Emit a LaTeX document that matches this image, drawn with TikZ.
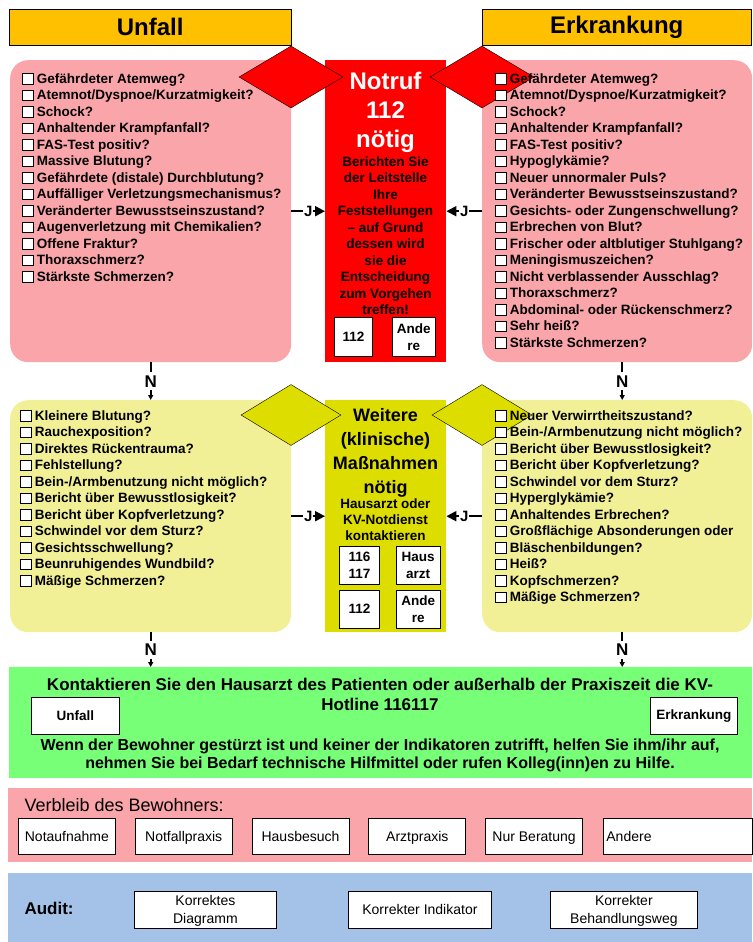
\documentclass[tikz,border=0pt]{standalone}
\usepackage{fontspec}
\setmainfont{Liberation Sans}
\usetikzlibrary{shapes.geometric, arrows.meta, positioning}

\definecolor{kopfgelb}{RGB}{255,192,0}
\definecolor{rosa}{RGB}{250,165,170}
\definecolor{notrot}{RGB}{255,0,0}
\definecolor{hellgelb}{RGB}{242,240,150}
\definecolor{olivgelb}{RGB}{221,221,0}
\definecolor{gruen}{RGB}{119,255,119}
\definecolor{hellblau}{RGB}{164,194,232}

\newcommand{\chk}{\raisebox{-0.5pt}{\setlength{\fboxsep}{0pt}\setlength{\fboxrule}{1.1pt}\fcolorbox{black}{white}{\rule{0pt}{9.5pt}\hspace{9.5pt}}}\hspace{3pt}}

\begin{document}
\begin{tikzpicture}[x=1pt, y=-1pt,
  hdr/.style={rectangle, draw=black, fill=kopfgelb, anchor=north west, inner sep=0pt,
              minimum height=36pt, font=\fontsize{24}{28}\selectfont\bfseries},
  panel/.style={rectangle, rounded corners=18pt, anchor=north west, inner sep=0pt},
  mitte/.style={rectangle, anchor=north west, inner sep=0pt, minimum width=121pt},
  raute/.style={diamond, draw=black, inner sep=0pt},
  liste/.style={anchor=north west, align=left, inner sep=0pt,
                font=\fontsize{13.5}{16.5}\selectfont\bfseries},
  kasten/.style={rectangle, draw=black, thick, fill=white, anchor=north west, inner sep=0pt,
                 align=center, font=\fontsize{13.5}{17}\selectfont\bfseries},
  wahl/.style={rectangle, draw=black, thick, fill=white, anchor=north west, inner sep=0pt,
               minimum width=97pt, minimum height=36pt, text height=11.5pt, text depth=1.5pt,
               font=\fontsize{14}{18}\selectfont},
  pruef/.style={rectangle, draw=black, thick, fill=white, anchor=north west, inner sep=0pt,
                align=center, minimum height=37pt, text depth=0pt, font=\fontsize{14}{18}\selectfont},
  band/.style={rectangle, anchor=north west, inner sep=0pt, minimum width=744pt},
  jpfeil/.style={-{Triangle[length=10pt, width=10pt]}, line width=2pt},
  npfeil/.style={-{Triangle[length=5pt, width=5pt]}, line width=2pt},
  jlab/.style={fill=white, inner sep=1pt, font=\fontsize{15}{15}\selectfont\bfseries},
  nlab/.style={fill=white, inner xsep=1pt, inner ysep=3pt, font=\fontsize{17}{17}\selectfont\bfseries}
]
\useasboundingbox (0,0) rectangle (752,942);

\node[hdr, minimum width=282pt] (unfall) at (9,9) {Unfall};
\node[hdr, minimum width=269pt] (erkrankung) at (482,9) {Erkrankung};

\node[panel, fill=rosa, minimum width=281pt, minimum height=302pt] (rotL) at (10,60) {};
\node[panel, fill=rosa, minimum width=270pt, minimum height=302pt] (rotR) at (482,60) {};
\node[mitte, fill=notrot, minimum height=302pt] (notruf) at (325,60) {};
\node[raute, fill=notrot, minimum width=104pt, minimum height=62pt] (rauteRotL) at (291,77) {};
\node[raute, fill=notrot, minimum width=104pt, minimum height=62pt] (rauteRotR) at (482,77) {};

\node[panel, fill=hellgelb, minimum width=281pt, minimum height=232pt] (gelbL) at (10,400) {};
\node[panel, fill=hellgelb, minimum width=270pt, minimum height=232pt] (gelbR) at (482,400) {};
\node[mitte, fill=olivgelb, minimum height=232pt] (weitere) at (325,400) {};
\node[raute, fill=olivgelb, minimum width=100pt, minimum height=61pt] (rauteGelbL) at (291,415) {};
\node[raute, fill=olivgelb, minimum width=100pt, minimum height=61pt] (rauteGelbR) at (482,415) {};

\node[liste] (listeRotL) at (22,73) {\chk Gefährdeter Atemweg?\\ \chk Atemnot/Dyspnoe/Kurzatmigkeit?\\
  \chk Schock?\\ \chk Anhaltender Krampfanfall?\\ \chk FAS-Test positiv?\\ \chk Massive Blutung?\\
  \chk Gefährdete (distale) Durchblutung?\\ \chk Auffälliger Verletzungsmechanismus?\\
  \chk Veränderter Bewusstseinszustand?\\ \chk Augenverletzung mit Chemikalien?\\
  \chk Offene Fraktur?\\ \chk Thoraxschmerz?\\ \chk Stärkste Schmerzen?};
\node[liste] (listeRotR) at (495,73) {\chk Gefährdeter Atemweg?\\ \chk Atemnot/Dyspnoe/Kurzatmigkeit?\\
  \chk Schock?\\ \chk Anhaltender Krampfanfall?\\ \chk FAS-Test positiv?\\ \chk Hypoglykämie?\\
  \chk Neuer unnormaler Puls?\\ \chk Veränderter Bewusstseinszustand?\\
  \chk Gesichts- oder Zungenschwellung?\\ \chk Erbrechen von Blut?\\
  \chk Frischer oder altblutiger Stuhlgang?\\ \chk Meningismuszeichen?\\
  \chk Nicht verblassender Ausschlag?\\ \chk Thoraxschmerz?\\
  \chk Abdominal- oder Rückenschmerz?\\ \chk Sehr heiß?\\ \chk Stärkste Schmerzen?};
\node[liste] (listeGelbL) at (20,410) {\chk Kleinere Blutung?\\ \chk Rauchexposition?\\
  \chk Direktes Rückentrauma?\\ \chk Fehlstellung?\\ \chk Bein-/Armbenutzung nicht möglich?\\
  \chk Bericht über Bewusstlosigkeit?\\ \chk Bericht über Kopfverletzung?\\
  \chk Schwindel vor dem Sturz?\\ \chk Gesichtsschwellung?\\ \chk Beunruhigendes Wundbild?\\
  \chk Mäßige Schmerzen?};
\node[liste] (listeGelbR) at (495,410) {\chk Neuer Verwirrtheitszustand?\\
  \chk Bein-/Armbenutzung nicht möglich?\\ \chk Bericht über Bewusstlosigkeit?\\
  \chk Bericht über Kopfverletzung?\\ \chk Schwindel vor dem Sturz?\\ \chk Hyperglykämie?\\
  \chk Anhaltendes Erbrechen?\\ \chk Großflächige Absonderungen oder\\ \chk Bläschenbildungen?\\
  \chk Heiß?\\ \chk Kopfschmerzen?\\ \chk Mäßige Schmerzen?};

\node[anchor=north, align=center, text=white, font=\fontsize{24}{29}\selectfont\bfseries]
  (notrufTitel) at (385.5,68.5) {Notruf\\112\\nötig};
\node[anchor=north, align=center, font=\fontsize{13.5}{16.5}\selectfont\bfseries]
  (notrufText) at (385.5,153) {Berichten Sie\\der Leitstelle\\Ihre\\Feststellungen\\– auf Grund\\
  dessen wird\\sie die\\Entscheidung\\zum Vorgehen\\treffen!};
\node[kasten, minimum width=38pt, minimum height=39pt] (k112) at (334,317) {112};
\node[kasten, minimum width=43pt, minimum height=39pt, right=19pt of k112] (kAndere) {Ande\\re};

\node[anchor=north, align=center, font=\fontsize{18}{24}\selectfont\bfseries]
  (weitereTitel) at (385.5,405) {Weitere\\(klinische)\\Maßnahmen\\nötig};
\node[anchor=north, align=center, font=\fontsize{13.5}{16}\selectfont\bfseries]
  (weitereText) at (385.5,495) {Hausarzt oder\\KV-Notdienst\\kontaktieren};
\node[kasten, minimum width=40pt, minimum height=38pt] (k116) at (339,546) {116\\117};
\node[kasten, minimum width=44pt, minimum height=38pt, right=16pt of k116] (kHaus) {Haus\\arzt};
\node[kasten, minimum width=40pt, minimum height=38pt, below=5pt of k116] (k112b) {112};
\node[kasten, minimum width=44pt, minimum height=38pt, right=16pt of k112b] (kAndere2) {Ande\\re};

\node[band, fill=gruen, minimum width=743pt, minimum height=111pt] (hausarzt) at (9,667) {};
\node[anchor=north, align=center, font=\fontsize{17}{20}\selectfont\bfseries]
  (hausarztText) at (380,675) {Kontaktieren Sie den Hausarzt des Patienten oder außerhalb der Praxiszeit die KV-\\
  Hotline 116117};
\node[kasten, minimum width=88pt, minimum height=37pt] (kUnfall) at (31,697) {Unfall};
\node[kasten, minimum width=87pt, minimum height=37pt] (kErkrankung) at (650,697) {Erkrankung};
\node[anchor=north, align=center, font=\fontsize{16}{18}\selectfont\bfseries]
  (sturzText) at (380,735.5) {Wenn der Bewohner gestürzt ist und keiner der Indikatoren zutrifft, helfen Sie ihm/ihr auf,\\
  nehmen Sie bei Bedarf technische Hilfmittel oder rufen Kolleg(inn)en zu Hilfe.};

\node[band, fill=rosa, minimum height=74pt] (verbleib) at (8,788) {};
\node[anchor=west, font=\fontsize{18}{20}\selectfont] (verbleibText) at (21,805) {Verbleib des Bewohners:};
\node[wahl] (wNotauf) at (18,818) {Notaufnahme};
\node[wahl, right=19pt of wNotauf] (wNotfall) {Notfallpraxis};
\node[wahl, right=19pt of wNotfall] (wHausbesuch) {Hausbesuch};
\node[wahl, right=19pt of wHausbesuch] (wArzt) {Arztpraxis};
\node[wahl, right=19pt of wArzt] (wBeratung) {Nur Beratung};
\node[wahl, right=20pt of wBeratung, minimum width=149pt, text width=143pt, align=left] (wAndere) {Andere};

\node[band, fill=hellblau, minimum height=69pt] (audit) at (8,873) {};
\node[anchor=west, font=\fontsize{17}{20}\selectfont\bfseries] (auditText) at (21,908) {Audit:};
\node[pruef, minimum width=142pt] (aDiagramm) at (134,891) {Korrektes\\Diagramm};
\node[pruef, minimum width=143pt] (aIndikator) at (348,891) {Korrekter Indikator};
\node[pruef, minimum width=147pt] (aWeg) at (550,891) {Korrekter\\Behandlungsweg};

\draw[jpfeil] (rotL) -- node[jlab]{J} (notruf);
\draw[jpfeil] (rotR) -- node[jlab]{J} (notruf);
\draw[jpfeil] (gelbL) -- node[jlab]{J} (weitere);
\draw[jpfeil] (gelbR) -- node[jlab]{J} (weitere);
\draw[npfeil] (rotL) -- node[nlab]{N} (gelbL);
\draw[npfeil] ([xshift=5pt]rotR.south) -- node[nlab]{N} ([xshift=5pt]gelbR.north);
\draw[npfeil] (gelbL) -- node[nlab]{N} (gelbL |- hausarzt.north);
\draw[npfeil] ([xshift=5pt]gelbR.south) -- node[nlab]{N} ([xshift=5pt]gelbR.south |- hausarzt.north);
\end{tikzpicture}
\end{document}
